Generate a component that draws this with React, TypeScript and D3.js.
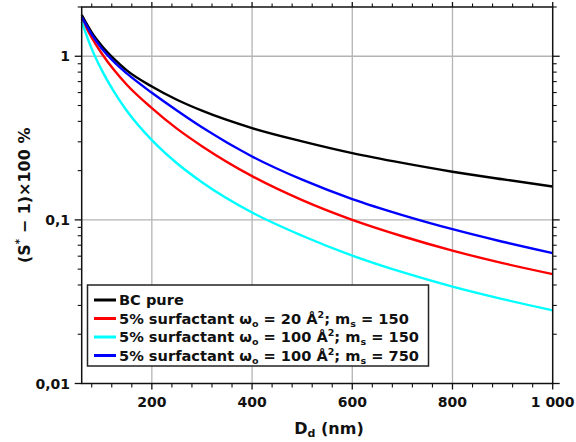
import React from "react";
import * as d3 from "d3";

const diameters = [60, 80, 100, 125, 150, 200, 250, 300, 400, 500, 600, 700, 800, 900, 1000];
const bcPure = [1.79, 1.40, 1.16, 0.96, 0.82, 0.653, 0.542, 0.465, 0.364, 0.302, 0.256, 0.223, 0.197, 0.177, 0.160];
const surf20_150 = [1.69, 1.30, 1.04, 0.82, 0.67, 0.482, 0.361, 0.282, 0.185, 0.132, 0.100, 0.0794, 0.0649, 0.0544, 0.0466];
const surf100_150 = [1.63, 1.11, 0.823, 0.604, 0.464, 0.307, 0.222, 0.170, 0.111, 0.080, 0.0605, 0.0479, 0.0391, 0.0328, 0.0280];
const surf100_750 = [1.74, 1.36, 1.115, 0.92, 0.785, 0.598, 0.466, 0.368, 0.244, 0.176, 0.134, 0.107, 0.0877, 0.0735, 0.0626];

const xMajorTicks = [200, 400, 600, 800, 1000];
const xMinorTicks = [80, 120, 160, 240, 280, 320, 360, 440, 480, 520, 560, 640, 680, 720, 760, 840, 880, 920, 960];
const yMajorTicks = [0.01, 0.1, 1];
const yTickLabels = ["0,01", "0,1", "1"];
const yMinorTicks = [0.02, 0.03, 0.04, 0.05, 0.06, 0.07, 0.08, 0.09, 0.2, 0.3, 0.4, 0.5, 0.6, 0.7, 0.8, 0.9, 2];

const seriesList = [
  { name: "bc", values: bcPure, color: "#000000" },
  { name: "s20", values: surf20_150, color: "#ff0000" },
  { name: "s100", values: surf100_150, color: "#00ffff" },
  { name: "s750", values: surf100_750, color: "#0000ff" },
];

const FONT = "'DejaVu Sans', sans-serif";

export default function App() {
  const W = 576, H = 442;
  const left = 81.7, right = 552.7, top = 7, bottom = 383.5;
  const x = d3.scaleLinear().domain([60, 1000]).range([left, right]);
  const y = d3.scaleLog().domain([0.01, 2]).range([bottom, top]);
  const line = d3
    .line<number>()
    .x((_, i) => x(diameters[i]))
    .y((d) => y(d))
    .curve(d3.curveMonotoneX);

  const fmtX = (v: number) => (v >= 1000 ? "1 000" : String(v));

  const legendX = 87.5, legendY = 285, legendW = 341, legendH = 81;
  const rowY = [300, 318.5, 337, 355.5];
  const legendFs = 14.6;

  const surfLabel = (omega: string, ms: string) => (
    <>
      5% surfactant ω<tspan fontSize={9.5} dy={3}>o</tspan>
      <tspan dy={-3}>{` = ${omega} Å`}</tspan>
      <tspan fontSize={9.5} dy={-6}>2</tspan>
      <tspan dy={6}>; m</tspan>
      <tspan fontSize={9.5} dy={3}>s</tspan>
      <tspan dy={-3}>{` = ${ms}`}</tspan>
    </>
  );

  return (
    <svg width={W} height={H} style={{ position: "absolute", left: 0, top: 0 }} fontFamily={FONT}>
      <rect x={0} y={0} width={W} height={H} fill="#fff" />
      {xMajorTicks.filter((t) => t < 1000).map((t) => (
        <line key={"gx" + t} x1={x(t)} x2={x(t)} y1={top} y2={bottom} stroke="#b4b4b4" strokeWidth={1.3} />
      ))}
      {yMajorTicks.filter((t) => t > 0.01).map((t) => (
        <line key={"gy" + t} x1={left} x2={right} y1={y(t)} y2={y(t)} stroke="#b4b4b4" strokeWidth={1.3} />
      ))}
      <g>
        {seriesList.map((s) => (
          <path key={s.name} d={line(s.values) || ""} fill="none" stroke={s.color} strokeWidth={2.4} />
        ))}
      </g>
      <rect x={left} y={top} width={right - left} height={bottom - top} fill="none" stroke="#111" strokeWidth={1.5} />
      {xMajorTicks.map((t) => (
        <g key={"xt" + t}>
          <line x1={x(t)} x2={x(t)} y1={bottom} y2={bottom + 6} stroke="#111" strokeWidth={1.3} />
          <line x1={x(t)} x2={x(t)} y1={top} y2={top - 5} stroke="#111" strokeWidth={1.3} />
          <text x={x(t)} y={407} textAnchor="middle" fontSize={14} fontWeight="bold" fill="#111">
            {fmtX(t)}
          </text>
        </g>
      ))}
      {xMinorTicks.map((t) => (
        <g key={"xm" + t}>
          <line x1={x(t)} x2={x(t)} y1={bottom} y2={bottom + 4} stroke="#111" strokeWidth={1.1} />
          <line x1={x(t)} x2={x(t)} y1={top} y2={top - 3.5} stroke="#111" strokeWidth={1.1} />
        </g>
      ))}
      {yMajorTicks.map((t, i) => (
        <g key={"yt" + t}>
          <line x1={left - 7} x2={left} y1={y(t)} y2={y(t)} stroke="#111" strokeWidth={1.3} />
          <line x1={right} x2={right + 7} y1={y(t)} y2={y(t)} stroke="#111" strokeWidth={1.3} />
          <text x={70} y={y(t) + 5} textAnchor="end" fontSize={14} fontWeight="bold" fill="#111">
            {yTickLabels[i]}
          </text>
        </g>
      ))}
      {yMinorTicks.map((t) => (
        <g key={"ym" + t}>
          <line x1={left - 4} x2={left} y1={y(t)} y2={y(t)} stroke="#111" strokeWidth={1.1} />
          <line x1={right} x2={right + 4} y1={y(t)} y2={y(t)} stroke="#111" strokeWidth={1.1} />
        </g>
      ))}
      <text x={329} y={434} textAnchor="middle" fontSize={16} fontWeight="bold" fill="#111">
        D<tspan fontSize={11} dy={3}>d</tspan>
        <tspan dy={-3}> (nm)</tspan>
      </text>
      <text
        transform={`translate(30, ${(top + bottom) / 2}) rotate(-90)`}
        textAnchor="middle"
        fontSize={16}
        fontWeight="bold"
        fill="#111"
      >
        (S<tspan fontSize={10} dy={-7}>*</tspan>
        <tspan dy={7}> − 1)×100 %</tspan>
      </text>
      <rect x={legendX} y={legendY} width={legendW} height={legendH} fill="#fff" stroke="#222" strokeWidth={1.5} />
      {seriesList.map((s, i) => (
        <line key={"ll" + s.name} x1={94} x2={116} y1={rowY[i]} y2={rowY[i]} stroke={s.color} strokeWidth={3} />
      ))}
      <g fontSize={legendFs} fontWeight="bold" fill="#111">
        <text x={119} y={rowY[0] + 5}>BC pure</text>
        <text x={119} y={rowY[1] + 5}>{surfLabel("20", "150")}</text>
        <text x={119} y={rowY[2] + 5}>{surfLabel("100", "150")}</text>
        <text x={119} y={rowY[3] + 5}>{surfLabel("100", "750")}</text>
      </g>
    </svg>
  );
}
